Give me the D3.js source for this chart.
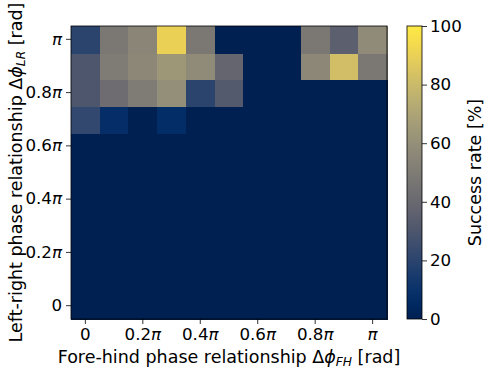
<!DOCTYPE html>
<html>
<head>
<meta charset="utf-8">
<script src="https://cdn.jsdelivr.net/npm/d3@7"></script>
<style>
  body { margin: 0; background: #fff; }
  text { font-family: "DejaVu Sans", sans-serif; fill: #000; }
</style>
</head>
<body>
<div id="chart"></div>
<script>
// phase steps in units of pi (columns: fore-hind, rows: left-right)
var fhSteps = [0, 0.1, 0.2, 0.3, 0.4, 0.5, 0.6, 0.7, 0.8, 0.9, 1.0];
var lrSteps = [0, 0.1, 0.2, 0.3, 0.4, 0.5, 0.6, 0.7, 0.8, 0.9, 1.0];
var tickSteps = [0, 0.2, 0.4, 0.6, 0.8, 1.0];
var tickLabels = ["0", "0.2", "0.4", "0.6", "0.8", ""];
var cbarTicks = [0, 20, 40, 60, 80, 100];

// success rate [%] per left-right row, listed along fore-hind steps
var rateLR10 = [20, 48, 55, 90, 48, 0, 0, 0, 48, 35, 58];
var rateLR09 = [30, 50, 56, 64, 58, 38, 0, 0, 56, 82, 48];
var rateLR08 = [30, 42, 50, 60, 20, 32, 0, 0, 0, 0, 0];
var rateLR07 = [22, 8, 0, 7, 0, 0, 0, 0, 0, 0, 0];
var rateZero = [0, 0, 0, 0, 0, 0, 0, 0, 0, 0, 0];
var rates = [rateZero, rateZero, rateZero, rateZero, rateZero, rateZero, rateZero,
             rateLR07, rateLR08, rateLR09, rateLR10];

var W = 484, H = 369;
var plot = { left: 71, right: 387, top: 26, bottom: 319 };
var cbar = { left: 407, right: 422 };
var tickFont = 16.7, titleFont = 17.5;

var svg = d3.select("#chart").append("svg").attr("width", W).attr("height", H);

var x = d3.scaleBand().domain(fhSteps).range([plot.left, plot.right]).padding(0);
var y = d3.scaleBand().domain(lrSteps).range([plot.bottom, plot.top]).padding(0);
var color = d3.scaleSequential(d3.interpolateCividis).domain([0, 100]);

var cells = [];
lrSteps.forEach(function (lr, i) {
  fhSteps.forEach(function (fh, j) {
    cells.push({ fh: fh, lr: lr, v: rates[i][j] });
  });
});

svg.append("g").attr("shape-rendering", "crispEdges")
  .selectAll("rect").data(cells).enter().append("rect")
  .attr("x", function (d) { return x(d.fh); })
  .attr("y", function (d) { return y(d.lr); })
  .attr("width", x.bandwidth() + 1)
  .attr("height", y.bandwidth() + 1)
  .attr("fill", function (d) { return color(d.v); });

svg.append("rect")
  .attr("x", plot.left).attr("y", plot.top)
  .attr("width", plot.right - plot.left).attr("height", plot.bottom - plot.top)
  .attr("fill", "none").attr("stroke", "#000").attr("stroke-width", 0.8);

function piLabel(sel, i) {
  sel.text(null);
  sel.append("tspan").text(tickLabels[i]);
  if (tickSteps[i] !== 0) {
    sel.append("tspan").attr("font-style", "italic").text("π");
  }
}

var xAxis = d3.axisBottom(x).tickValues(tickSteps).tickSize(5).tickPadding(4);
var gx = svg.append("g").attr("transform", "translate(0," + plot.bottom + ")").call(xAxis);
gx.select(".domain").remove();
gx.selectAll(".tick text").attr("font-size", tickFont).each(function (d, i) { piLabel(d3.select(this), i); });

var yAxis = d3.axisLeft(y).tickValues(tickSteps).tickSize(5).tickPadding(4);
var gy = svg.append("g").attr("transform", "translate(" + plot.left + ",0)").call(yAxis);
gy.select(".domain").remove();
gy.selectAll(".tick text").attr("font-size", tickFont).each(function (d, i) { piLabel(d3.select(this), i); });

svg.selectAll(".tick line").attr("stroke", "#000").attr("stroke-width", 0.8);
svg.selectAll(".tick text").attr("fill", "#000").attr("font-family", "DejaVu Sans");

// axis titles
var xt = svg.append("text").attr("x", (plot.left + plot.right) / 2).attr("y", 363)
  .attr("text-anchor", "middle").attr("font-size", titleFont);
xt.append("tspan").text("Fore-hind phase relationship Δ");
xt.append("tspan").attr("font-style", "italic").text("ϕ");
xt.append("tspan").attr("font-style", "italic").attr("font-size", titleFont * 0.7).attr("dy", 3).text("FH");
xt.append("tspan").attr("dy", -3).text(" [rad]");

var yt = svg.append("text")
  .attr("transform", "translate(21.5," + (plot.top + plot.bottom) / 2 + ") rotate(-90)")
  .attr("text-anchor", "middle").attr("font-size", titleFont);
yt.append("tspan").text("Left-right phase relationship Δ");
yt.append("tspan").attr("font-style", "italic").text("ϕ");
yt.append("tspan").attr("font-style", "italic").attr("font-size", titleFont * 0.7).attr("dy", 3).text("LR");
yt.append("tspan").attr("dy", -3).text(" [rad]");

// colorbar
var cy = d3.scaleLinear().domain([0, 100]).range([plot.bottom, plot.top]);
var grad = svg.append("defs").append("linearGradient").attr("id", "cgrad")
  .attr("x1", 0).attr("y1", 1).attr("x2", 0).attr("y2", 0);
d3.range(0, 1.0001, 0.05).forEach(function (t) {
  grad.append("stop").attr("offset", t).attr("stop-color", d3.interpolateCividis(t));
});
svg.append("rect").attr("x", cbar.left).attr("y", plot.top)
  .attr("width", cbar.right - cbar.left).attr("height", plot.bottom - plot.top)
  .attr("fill", "url(#cgrad)").attr("stroke", "#000").attr("stroke-width", 0.8);

var cAxis = d3.axisRight(cy).tickValues(cbarTicks).tickSize(5).tickPadding(3);
var gc = svg.append("g").attr("transform", "translate(" + cbar.right + ",0)").call(cAxis);
gc.select(".domain").remove();
gc.selectAll(".tick line").attr("stroke", "#000").attr("stroke-width", 0.8);
gc.selectAll(".tick text").attr("font-size", tickFont).attr("fill", "#000").attr("font-family", "DejaVu Sans");

svg.append("text")
  .attr("transform", "translate(475," + (plot.top + plot.bottom) / 2 + ") rotate(-90)")
  .attr("text-anchor", "middle").attr("dy", "0.35em").attr("font-size", titleFont)
  .text("Success rate [%]");
</script>
</body>
</html>
